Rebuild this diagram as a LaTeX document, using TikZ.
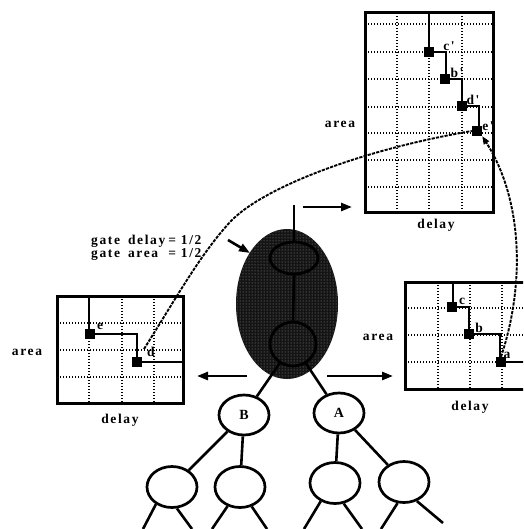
\documentclass[tikz,border=0pt]{standalone}
\usepackage{fontspec}
\setmainfont{Liberation Serif}
\newfontfamily\tagfont{Liberation Serif}[LetterSpace=12]
\usetikzlibrary{shapes.geometric,patterns,arrows.meta}

\tikzset{
  frame/.style={line width=3pt},
  gridline/.style={line width=1.6pt, dash pattern=on 1.4pt off 1.6pt},
  stair/.style={line width=2.3pt},
  pin/.style={rectangle, fill=black, minimum size=10pt, inner sep=0pt},
  tag/.style={font=\tagfont\bfseries\fontsize{13.5}{13}\selectfont, inner sep=0pt},
  tree/.style={ellipse, draw, line width=2.7pt, minimum width=50pt, minimum height=40pt,
    inner sep=0pt, font=\tagfont\bfseries\fontsize{14}{14}\selectfont},
  branch/.style={line width=2.6pt},
  push/.style={line width=2.6pt, -{Triangle[length=11pt,width=8pt]}},
  flow/.style={line width=1.9pt, dash pattern=on 3.2pt off 1.2pt},
  ring/.style={ellipse, draw, line width=2.8pt, inner sep=0pt},
}

\begin{document}
\begin{tikzpicture}[x=1pt,y=-1pt]
\useasboundingbox (0,0) rectangle (523,529);
\clip (0,0) rectangle (523,529);

% ---------- upper right chart ----------
\foreach \x in {397,429,462} \draw[gridline] (\x,13) -- (\x,212);
\foreach \y in {24,52,79,107,133,160,187} \draw[gridline] (365,\y) -- (493,\y);
\draw[frame] (365,13) rectangle (493,212);
\draw[stair] (429,13) -- (429,52) -- (446,52) -- (446,79) -- (462,79)
  -- (462,106) -- (479,106) -- (479,131);
\node[pin] (cq) at (429,52) {};
\node[pin] (bq) at (445,79) {};
\node[pin] (dq) at (462,106) {};
\node[pin] (eq) at (477,131) {};
\node[tag] at (449,46) {c'};
\node[tag] at (457,73) {b'};
\node[tag] at (473,100) {d'};
\node[tag] at (488,126) {e'};
\node[tag] at (340,124) {area};
\node[tag] at (436,225) {delay};

% ---------- right chart ----------
\foreach \x in {438,470,502} \draw[gridline] (\x,282) -- (\x,389);
\foreach \y in {308,335,362} \draw[gridline] (405,\y) -- (534,\y);
\draw[frame] (405,282) rectangle (534,389);
\draw[stair] (453,282) -- (453,307) -- (469,307) -- (469,334) -- (500,334)
  -- (500,362) -- (534,362);
\node[pin] (cr) at (452,307) {};
\node[pin] (br) at (469,334) {};
\node[pin] (ar) at (501,362) {};
\node[tag] at (462,301) {c};
\node[tag] at (479,328) {b};
\node[tag] at (507,355) {a};
\node[tag] at (378,337) {area};
\node[tag] at (470,407) {delay};

% ---------- left chart ----------
\foreach \x in {89,122,154} \draw[gridline] (\x,296) -- (\x,403);
\foreach \y in {323,350,377} \draw[gridline] (57,\y) -- (183,\y);
\draw[frame] (57,296) rectangle (183,403);
\draw[stair] (89,296) -- (89,334) -- (137,334) -- (137,362) -- (183,362);
\node[pin] (el) at (90,334) {};
\node[pin] (dl) at (137,362) {};
\node[tag] at (100,326) {e};
\node[tag] at (151,352) {d};
\node[tag] at (27,352) {area};
\node[tag] at (120,420) {delay};

% ---------- gate figures ----------
\node[tag, anchor=west] at (91,248) {%
  \begin{tabular}{@{}l@{\hspace{8pt}}l@{\hspace{3pt}}l@{}}
  gate & delay & = 1/2\\
  gate & area  & = 1/2
  \end{tabular}};

% ---------- shaded cone (halftone) ----------
\node[ellipse, minimum width=102pt, minimum height=150pt, inner sep=0pt,
  fill=black!92] (cone) at (287,304) {};
\node[ellipse, minimum width=102pt, minimum height=150pt, inner sep=0pt,
  pattern=dots, pattern color=black!40] at (cone) {};
\node[ring, minimum width=48pt, minimum height=32pt] (up) at (294,258) {};
\node[ring, minimum width=46pt, minimum height=44pt] (low) at (293,344) {};
\coordinate (stem) at (294,205);
\draw[branch] (stem) -- (up.north);
\draw[branch] (up.south) -- (low.north);

% ---------- tree ----------
\node[tree] (B) at (244,415) {B};
\node[tree] (A) at (339,413) {A};
\node[tree, minimum height=41pt] (n1) at (172,487) {};
\node[tree, minimum height=41pt] (n2) at (240,487) {};
\node[tree, minimum height=41pt] (n3) at (335,483) {};
\node[tree, minimum height=41pt] (n4) at (404,482) {};
\draw[branch] (low) -- (B);
\draw[branch] (low) -- (A);
\draw[branch] (B) -- (n1);
\draw[branch] (B) -- (n2);
\draw[branch] (A) -- (n3);
\draw[branch] (A) -- (n4);
\coordinate (l1) at (143,529); \coordinate (r1) at (192,529);
\coordinate (l2) at (212,529); \coordinate (r2) at (267,529);
\coordinate (l3) at (304,529); \coordinate (r3) at (362,529);
\coordinate (l4) at (381,529); \coordinate (r4) at (443,523);
\draw[branch] (n1.-133) -- (l1);
\draw[branch] (n1.-77) -- (r1);
\draw[branch] (n2.-123) -- (l2);
\draw[branch] (n2.-59) -- (r2);
\draw[branch] (n3.-128) -- (l3);
\draw[branch] (n3.-67) -- (r3);
\draw[branch] (n4.-107) -- (l4);
\draw[branch] (n4.-56) -- (r4);

% ---------- arrows ----------
\coordinate (lt) at (247,376); \coordinate (lh) at (197,376);
\coordinate (rt) at (327,376); \coordinate (rh) at (393,376);
\coordinate (tt) at (303,207); \coordinate (th) at (352,207);
\coordinate (gt) at (228,240); \coordinate (gh) at (250,253);
\draw[push] (lt) -- (lh);
\draw[push] (rt) -- (rh);
\draw[push] (tt) -- (th);
\draw[push] (gt) -- (gh);

% ---------- dashed correspondences ----------
\coordinate (dEnd) at (144,349);
\draw[flow] (dEnd) .. controls (178,295) and (200,255) .. (230,222)
  .. controls (262,188) and (360,150) .. (eq.west);
\draw[flow, -{Triangle[length=8pt,width=6pt]}] (ar.north)
  .. controls (525,285) and (523,200) .. (eq.south east);
\end{tikzpicture}
\end{document}
